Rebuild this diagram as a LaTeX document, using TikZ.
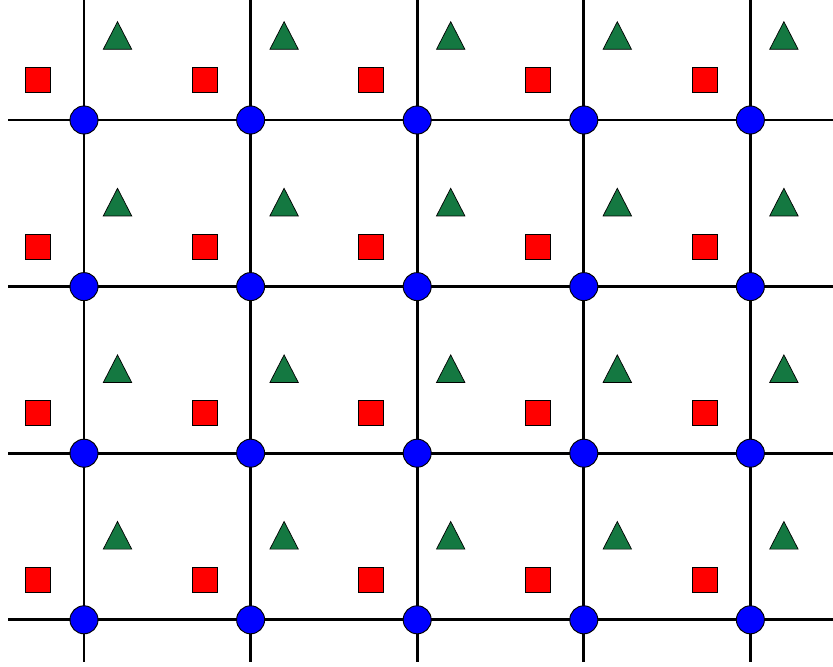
\documentclass[tikz,border=0pt]{standalone}
\definecolor{trigreen}{RGB}{20,120,65}
\begin{document}
\begin{tikzpicture}[
  x=0.03cm, y=-0.03cm,
  gridline/.style={line width=2.4pt},
  site/.style={circle, draw, fill=blue, minimum size=0.84cm, inner sep=0pt, line width=0.8pt},
  sq/.style={draw, fill=red, minimum size=0.75cm, inner sep=0pt, line width=0.6pt},
  tri/.style={draw, fill=trigreen, line width=0.6pt, line join=miter}
]
\useasboundingbox (0,0) rectangle (833,667);
% lattice lines
\foreach \i in {0,...,4} {
  \draw[gridline] (84+166.6*\i,0) -- (84+166.6*\i,662);
}
\foreach \j in {0,...,3} {
  \draw[gridline] (8,120+166.6*\j) -- (833,120+166.6*\j);
}
% squares and triangles in each cell
\foreach \j in {0,...,3} {
  \foreach \i in {0,...,4} {
    \node[sq] (sq-\i-\j) at (38+166.6*\i,80+166.6*\j) {};
    \coordinate (tr-\i-\j) at (117.5+166.6*\i,35.5+166.6*\j);
    \draw[tri] ([yshift=13.8*0.03cm]tr-\i-\j) -- ([xshift=14.2*0.03cm, yshift=-13.8*0.03cm]tr-\i-\j)
      -- ([xshift=-14.2*0.03cm, yshift=-13.8*0.03cm]tr-\i-\j) -- cycle;
  }
}
% blue sites on the crossings
\foreach \j in {0,...,3} {
  \foreach \i in {0,...,4} {
    \node[site] (site-\i-\j) at (84+166.6*\i,120+166.6*\j) {};
  }
}
\end{tikzpicture}
\end{document}
